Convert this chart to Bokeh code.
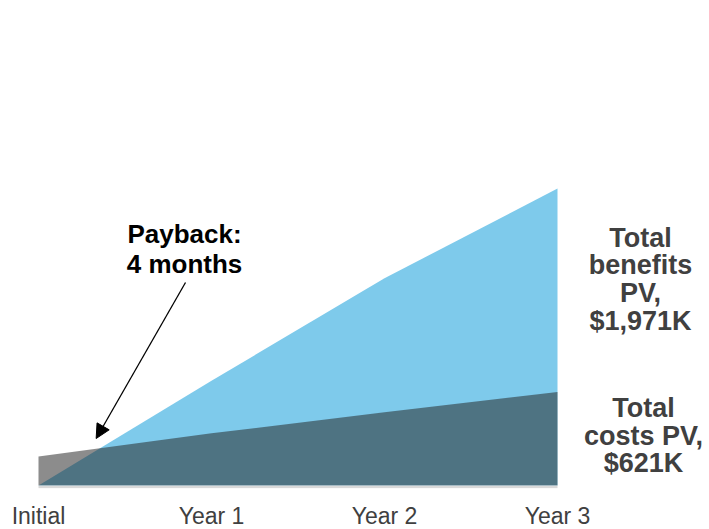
from bokeh.plotting import figure
from bokeh.models import Range1d, FixedTicker, Arrow, NormalHead
from bokeh.core.properties import value
from bokeh.embed import file_html
from bokeh.resources import INLINE

# ---- data ----
categories = ["Initial", "Year 1", "Year 2", "Year 3"]
periods = [0, 1, 2, 3]
benefits = [0, 695, 1375, 1971]      # cumulative benefits PV, $K
costs = [193, 346, 486, 621]         # cumulative costs PV, $K
payback_months = 4
benefits_label = "Total\nbenefits\nPV,\n$1,971K"
costs_label = "Total\ncosts PV,\n$621K"
payback_label = "Payback:\n4 months"

# ---- layout constants ----
PX = 1971 / 297.0          # $K per pixel
UNIT = 173.0               # pixels per period
X0 = 38.0                  # pixel position of "Initial"
BASE = 485.0               # pixel position of zero
FONT = value("Liberation Sans")


def dx(px):
    return (px - X0) / UNIT


def dy(py):
    return (BASE - py) * PX


p = figure(frame_width=709, frame_height=488,
           x_range=Range1d(dx(0), dx(709)),
           y_range=Range1d(dy(488), dy(0)),
           output_backend="svg", toolbar_location=None,
           y_axis_location=None, min_border=0)
p.outline_line_color = None
p.grid.visible = False
p.background_fill_color = "white"

# benefits area
p.varea(x=periods, y1=[0] * len(periods), y2=benefits, fill_color="#7ecaeb")
# costs area (semi-transparent dark: grey over white, slate over blue)
p.varea(x=periods, y1=[0] * len(periods), y2=costs, fill_color="#222222", fill_alpha=0.52)
# baseline
p.line(x=[periods[0], periods[-1]], y=[dy(486.5)] * 2, line_color="#d9d9d9", line_width=2.5)

# x axis
ax = p.xaxis[0]
ax.ticker = FixedTicker(ticks=periods)
ax.major_label_overrides = {k: c for k, c in zip(periods, categories)}
ax.axis_line_color = None
ax.major_tick_line_color = None
ax.minor_tick_line_color = None
ax.major_tick_out = 0
ax.major_tick_in = 0
ax.major_label_standoff = 14
ax.major_label_text_font = "Liberation Sans"
ax.major_label_text_font_size = "23px"
ax.major_label_text_color = "#404040"

# right-hand labels
p.text(x=[dx(640)], y=[dy(222)], text=[benefits_label],
       text_align="center", text_baseline="top", text_font=FONT,
       text_font_style="bold", text_font_size="27px", text_color="#404040",
       text_line_height=0.93)
p.text(x=[dx(643)], y=[dy(392.5)], text=[costs_label],
       text_align="center", text_baseline="top", text_font=FONT,
       text_font_style="bold", text_font_size="27px", text_color="#404040",
       text_line_height=0.92)

# payback annotation
p.text(x=[dx(184)], y=[dy(218)], text=[payback_label],
       text_align="center", text_baseline="top", text_font=FONT,
       text_font_style="bold", text_font_size="26px", text_color="black",
       text_line_height=1.03)
p.add_layout(Arrow(end=NormalHead(size=14, fill_color="black", line_color="black"),
                   x_start=dx(185), y_start=dy(282),
                   x_end=payback_months / 12.0, y_end=dy(438),
                   line_color="black", line_width=1.3))

open("out.html", "w").write(file_html(p, INLINE))
